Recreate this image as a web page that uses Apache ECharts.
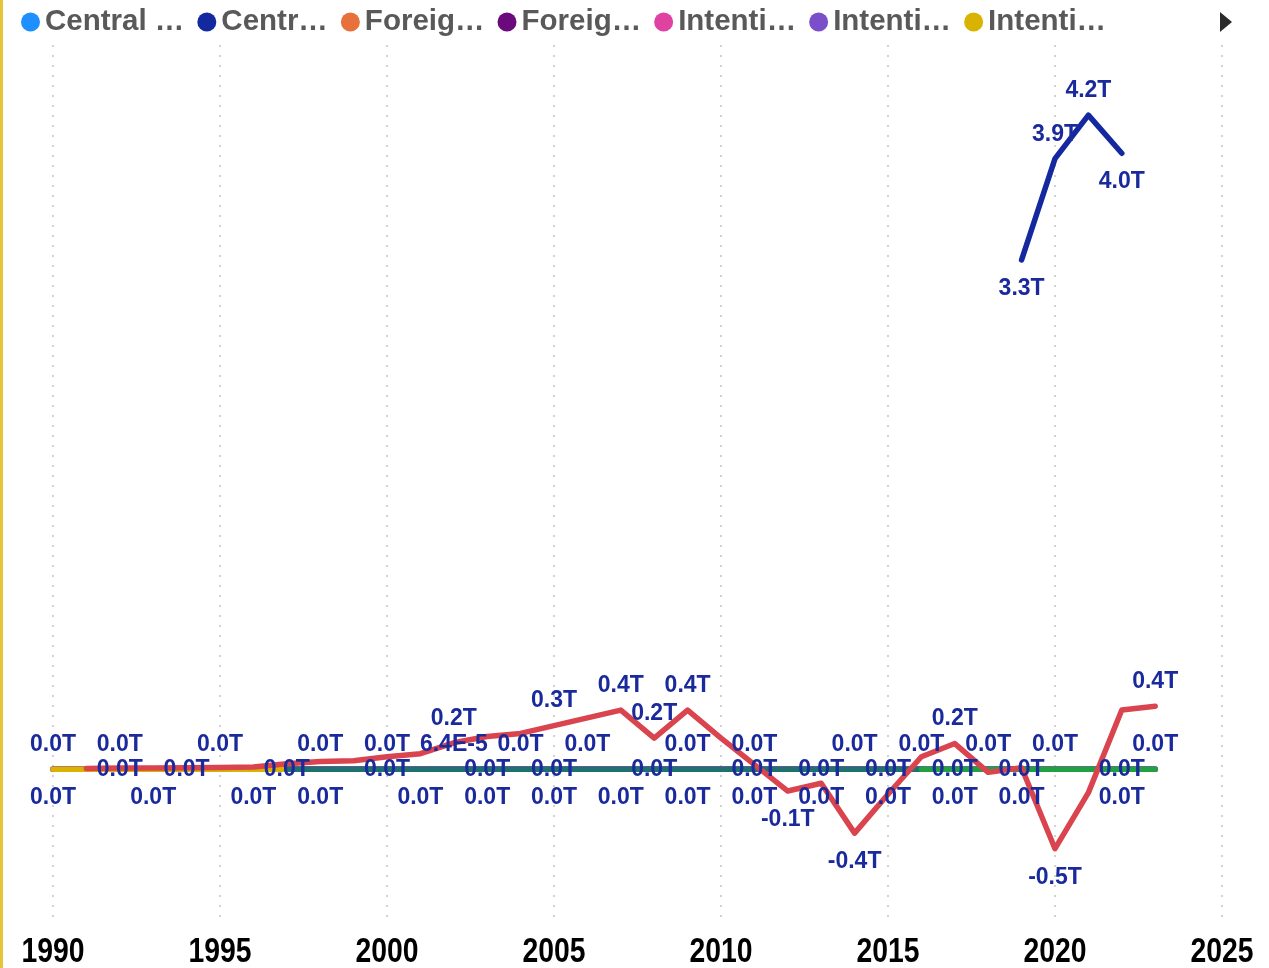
<!DOCTYPE html>
<html>
<head>
<meta charset="utf-8">
<script src="https://cdn.jsdelivr.net/npm/echarts@6/dist/echarts.min.js"></script>
<style>
html, body { margin: 0; padding: 0; background: #fff; }
#main { width: 1269px; height: 968px; }
#edge { position: absolute; left: 0; top: 0; width: 3px; height: 968px; background: #e6c53a; z-index: 5; }
</style>
</head>
<body>
<div id="edge"></div>
<div id="main"></div>
<script>
// years on the x axis
var years = [1990, 1991, 1992, 1993, 1994, 1995, 1996, 1997, 1998, 1999,
  2000, 2001, 2002, 2003, 2004, 2005, 2006, 2007, 2008, 2009,
  2010, 2011, 2012, 2013, 2014, 2015, 2016, 2017, 2018, 2019,
  2020, 2021, 2022, 2023];
var xTicks = [1990, 1995, 2000, 2005, 2010, 2015, 2020, 2025];

// series names (legend shows them cut short)
var seriesNames = [
  'Central bank claims on central government',
  'Central government debt, total (current LCU)',
  'Foreign direct investment, net inflows',
  'Foreign direct investment, net outflows',
  'Intentional homicides, female',
  'Intentional homicides, male',
  'Intentional homicides, total',
  'Net acquisition of financial assets',
  'Net incurrence of liabilities',
  'Net lending / borrowing'
];
var legendText = ['Central …', 'Centr…', 'Foreig…', 'Foreig…', 'Intenti…', 'Intenti…', 'Intenti…', 'Net acq…', 'Net inc…', 'Net len…'];
var colors = ['#1e8fff', '#14289f', '#e8703a', '#6b0a7c', '#e042a2', '#7a4fc9', '#dab300', '#1f7170', '#21a242', '#d9444f'];

// values in trillions, null = no data
var n = null;
var claims  = [0,0,0,0,0,0,0,0,0,0, 0,0,0,0,0,0,0,0,0,0, 0,0,0,0,0,0,0,0,0,0, 0,0,0,0];
var debt    = [n,n,n,n,n,n,n,n,n,n, n,n,n,n,n,n,n,n,n,n, n,n,n,n,n,n,n,n,n,3.27, 3.92,4.2,3.955,n];
var fdiIn   = [0,0,0,0,0,0,0,0,0,0, 0,0,0.000064,0,0,0,0,0,0,0, 0,0,0,0,0,0,0,0,0,0, 0,0,0,0];
var fdiOut  = [0,0,0,0,0,0,0,0,0,0, 0,0,0,0,0,0,0,0,0,0, 0,0,0,0,0,0,0,0,0,0, 0,0,0,0];
var homF    = [0,0,0,0,0,0,0,0,0,0, 0,0,0,0,0,0,0,0,0,0, 0,0,0,0,0,0,0,0,0,0, 0,0,0,0];
var homM    = [0,0,0,0,0,0,0,0,0,0, 0,0,0,0,0,0,0,0,0,0, 0,0,0,0,0,0,0,0,0,0, 0,0,0,0];
var homAll  = [0,0,0,0,0,0,0,0,n,n, n,n,n,n,n,n,n,n,n,n, n,n,n,n,n,n,n,n,n,n, n,n,n,n];
var assets  = [n,n,n,n,n,n,n,0,0,0, 0,0,0,0,0,0,0,0,0,0, 0,0,0,0,0,0,0,n,n,n, n,n,n,n];
var liabs   = [n,n,n,n,n,n,n,n,n,n, n,n,n,n,n,n,n,n,n,n, n,n,n,n,n,n,0,0,0,0, 0,0,0,0];
var lending = [n,0.005,0.008,0.008,0.01,0.012,0.015,0.035,0.05,0.055,
  0.08,0.1,0.17,0.21,0.23,0.28,0.33,0.38,0.2,0.38,
  0.2,0.03,-0.14,-0.09,-0.41,-0.16,0.08,0.165,-0.02,0.01,
  -0.51,-0.15,0.38,0.405];
var allValues = [claims, debt, fdiIn, fdiOut, homF, homM, homAll, assets, liabs, lending];

// which years keep a value label (the rest overlap and are left out)
var claimsLabelYears = [1992, 1994, 1997, 2000, 2003, 2005, 2008, 2011, 2013, 2015, 2017, 2019, 2022];
var fdiInLabelYears = [1990, 1992, 1995, 1998, 2000, 2002, 2004, 2006, 2009, 2011, 2014, 2016, 2018, 2020, 2023];
var fdiOutLabelYears = [1990, 1993, 1996, 1998, 2001, 2003, 2005, 2007, 2009, 2011, 2013, 2015, 2017, 2019, 2022];
var lendingLabelYears = [2002, 2005, 2007, 2008, 2009, 2012, 2014, 2017, 2020, 2023];
var labelYears = [claimsLabelYears, years, fdiInLabelYears, fdiOutLabelYears, [], [], [], [], [], lendingLabelYears];
var labelPos = ['inside', 'top', 'top', 'bottom', 'top', 'bottom', 'top', 'top', 'top', 'top'];

function fmt(v) {
  if (v !== 0 && Math.abs(v) < 0.001) return v.toExponential(1).toUpperCase();
  if (Math.abs(v) < 0.05) return '0.0T';
  return v.toFixed(1) + 'T';
}

var series = allValues.map(function (vals, s) {
  var last = -1, first = -1;
  vals.forEach(function (v, i) { if (v != null) { if (first < 0) first = i; last = i; } });
  return {
    name: seriesNames[s],
    type: 'line',
    symbol: 'circle',
    symbolSize: 0,
    showSymbol: true,
    lineStyle: { width: 5.5, cap: 'round', join: 'round', color: colors[s] },
    itemStyle: { color: colors[s] },
    label: {
      show: true,
      color: '#1a2a9c',
      fontSize: 23,
      fontWeight: 'bold',
      fontFamily: 'Arial',
      formatter: function (p) { return fmt(p.value[1]); }
    },
    emphasis: { disabled: true },
    data: vals.map(function (v, i) {
      if (v == null) return [years[i], null];
      var pos = labelPos[s];
      if ((s === 9 && v < 0) || (s === 1 && (i === first || i === last))) pos = 'bottom';
      return {
        value: [years[i], v],
        label: {
          show: labelYears[s].indexOf(years[i]) >= 0,
          position: pos,
          distance: pos === 'bottom' ? 17 : 13
        }
      };
    })
  };
});

var chart = echarts.init(document.getElementById('main'));
chart.setOption({
  animation: false,
  color: colors,
  legend: {
    type: 'scroll',
    left: 16,
    top: 2,
    width: 1211,
    icon: 'circle',
    itemWidth: 19,
    itemHeight: 19,
    itemGap: 13,
    textStyle: { color: '#595959', fontSize: 29.5, fontWeight: 'bold', fontFamily: 'Arial' },
    formatter: function (name) { return legendText[seriesNames.indexOf(name)]; },
    pageFormatter: ' ',
    pageButtonGap: 62,
    pageTextStyle: { color: 'rgba(0,0,0,0)' },
    pageIconColor: '#2b2b2b',
    pageIconInactiveColor: 'rgba(0,0,0,0)',
    pageIconSize: [12, 20]
  },
  grid: { left: 53, right: 47, top: 45, bottom: 43, outerBoundsMode: 'none' },
  xAxis: {
    type: 'value',
    min: xTicks[0],
    max: xTicks[xTicks.length - 1],
    interval: 5,
    axisLine: { show: false },
    axisTick: { show: false },
    axisLabel: { show: false },
    splitLine: { show: true, lineStyle: { type: [2, 8], color: '#c4c4c4', width: 1.5 } }
  },
  yAxis: {
    type: 'value',
    min: -1,
    max: 4.65,
    show: false,
    splitLine: { show: false }
  },
  series: series
});

// year labels under the axis, drawn a bit narrow like the original
var labelY = chart.convertToPixel({ yAxisIndex: 0 }, -1) + 27;
chart.setOption({
  graphic: xTicks.map(function (t) {
    return {
      type: 'text',
      x: chart.convertToPixel({ xAxisIndex: 0 }, t),
      y: labelY,
      scaleX: 0.81,
      silent: true,
      style: {
        text: String(t),
        fill: '#000',
        font: 'bold 35px Arial',
        textAlign: 'center',
        textVerticalAlign: 'middle'
      }
    };
  })
});
</script>
</body>
</html>
